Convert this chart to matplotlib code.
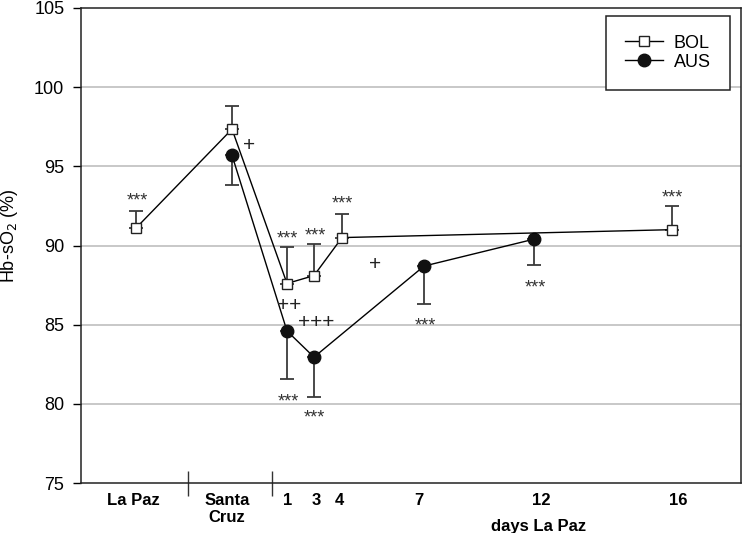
import matplotlib
matplotlib.use("Agg")
import matplotlib.pyplot as plt

plt.rcParams['font.family'] = ['Liberation Sans', 'DejaVu Sans']

# x locations of the measurement occasions (axis units)
occasions = ["La Paz", "Santa Cruz", "d1", "d3", "d4", "d7", "d12", "d16"]
x_occ = [55, 151, 206, 233, 261, 343, 453, 591]

# BOL series
bol_x = [55, 151, 206, 233, 261, 591]
bol_y = [91.1, 97.35, 87.6, 88.1, 90.5, 91.0]
bol_err = [1.05, 1.45, 2.3, 2.0, 1.5, 1.5]

# AUS series
aus_x = [151, 206, 233, 343, 453]
aus_y = [95.7, 84.6, 82.95, 88.7, 90.4]
aus_err = [1.9, 3.0, 2.5, 2.4, 1.65]

# x tick labels
tick_pos = [52, 146, 207, 235, 258, 338, 460, 597]
tick_labels = ["La Paz", "Santa\nCruz", "1", "3", "4", "7", "12", "16"]
separators = [107, 191]

# significance annotations
star_x = [56, 206, 234, 261, 591, 207, 233, 344, 454]
star_y = [93.2, 90.8, 91.0, 93.0, 93.4, 80.5, 79.45, 85.3, 87.7]
plus_x = [168, 294, 208, 235]
plus_y = [96.4, 88.9, 86.3, 85.25]
plus_txt = ["+", "+", "++", "+++"]

fig = plt.figure(figsize=(7.42, 5.33), dpi=100)
ax = fig.add_axes([81/742, 1-483/533, 660/742, 475/533])

ax.set_xlim(0, 660)
ax.set_ylim(75, 105)
ax.set_yticks([75, 80, 85, 90, 95, 100, 105])
for g in [80, 85, 90, 95, 100]:
    ax.axhline(g, color='#c4c4c4', lw=1.3, zorder=0)

ax.errorbar(bol_x, bol_y, yerr=[[0]*len(bol_err), bol_err], fmt='none',
            ecolor='#3a3a3a', elinewidth=1.3, capsize=5, capthick=1.3, zorder=2)
ax.errorbar(aus_x, aus_y, yerr=[aus_err, [0]*len(aus_err)], fmt='none',
            ecolor='#3a3a3a', elinewidth=1.3, capsize=5, capthick=1.3, zorder=2)

ax.plot(bol_x, bol_y, color='black', lw=1.0, marker='s', markersize=7.5,
        markerfacecolor='white', markeredgecolor='#222222', markeredgewidth=1.0,
        label='BOL', zorder=4)
ax.plot(aus_x, aus_y, color='black', lw=1.0, marker='o', markersize=9,
        markerfacecolor='#111111', markeredgecolor='#111111',
        label='AUS', zorder=3)

for x, y in zip(star_x, star_y):
    ax.annotate('***', (x, y), xytext=(0, -7.5), textcoords='offset points',
                ha='center', va='baseline', fontsize=13, color='#333333')
for x, y, t in zip(plus_x, plus_y, plus_txt):
    ax.annotate(t, (x, y), xytext=(0, -5), textcoords='offset points',
                ha='center', va='baseline', fontsize=15, color='#222222')

ax.set_xticks(tick_pos)
ax.set_xticklabels(tick_labels, fontsize=12, fontweight='bold')
ax.tick_params(axis='x', which='major', length=0, pad=7)
ax.set_xticks(separators, minor=True)
ax.tick_params(axis='x', which='minor', direction='inout', length=18, width=1.0,
               color='#333333')
ax.tick_params(axis='y', labelsize=13, length=6, width=1.0, pad=6)
ax.text(458, -0.076, 'days La Paz', transform=ax.get_xaxis_transform(),
        ha='center', va='top', fontsize=12, fontweight='bold')

ax.set_ylabel('Hb-sO$_2$ (%)', fontsize=13)
ax.yaxis.set_label_coords(-0.092, 0.52)

for s in ax.spines.values():
    s.set_color('#222222')
    s.set_linewidth(1.1)

leg = ax.legend(loc='upper right', bbox_to_anchor=(0.983, 0.984), borderaxespad=0,
                fontsize=13, handlelength=2.1, handletextpad=0.6,
                labelspacing=0.12, borderpad=1.05, fancybox=False,
                edgecolor='#222222', framealpha=1)
leg.get_frame().set_linewidth(1.1)

fig.savefig('out.png', dpi=100)
